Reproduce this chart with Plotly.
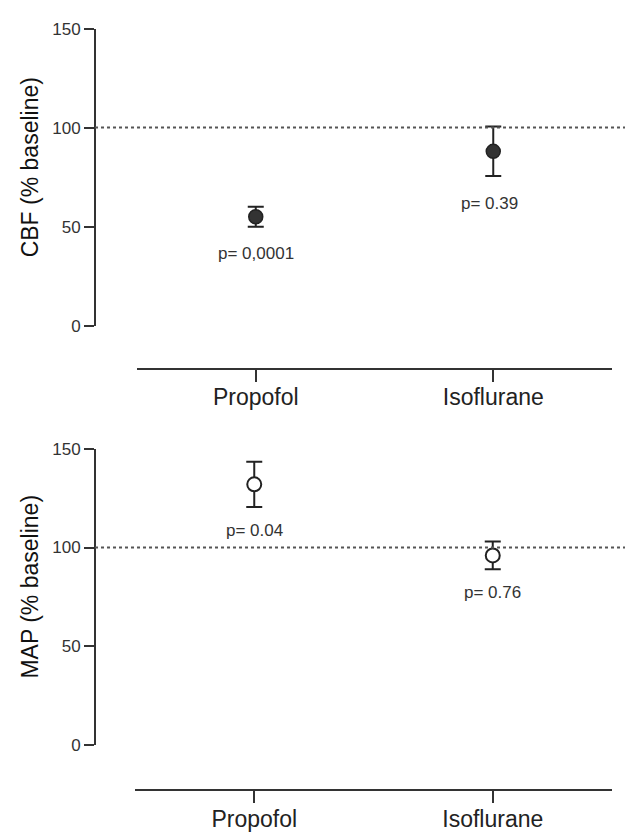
import plotly.graph_objects as go

# Group means (% of baseline) with their error half-widths
agents = ["Propofol", "Isoflurane"]
agent_pos = [1, 2]
cbf_mean = [55, 88]
cbf_err = [5, 12.5]
map_mean = [132, 96]
map_err = [11.5, 7]
cbf_p = ["p= 0,0001", "p= 0.39"]
map_p = ["p= 0.04", "p= 0.76"]
y_ticks = [0, 50, 100, 150]
baseline = 100

W, H = 625, 839


def px(x):
    return x / W


def py(y):
    return 1 - y / H


INK = "#222222"
FONT = "Arial, Liberation Sans, sans-serif"
fig = go.Figure()

# CBF: filled markers
fig.add_trace(go.Scatter(
    x=agent_pos, y=cbf_mean, mode="markers", xaxis="x", yaxis="y",
    marker=dict(size=14, color="#333333", line=dict(color=INK, width=1.5)),
    error_y=dict(type="data", array=cbf_err, visible=True, color=INK,
                 thickness=2, width=8),
    showlegend=False,
))

# MAP: open markers
fig.add_trace(go.Scatter(
    x=agent_pos, y=map_mean, mode="markers", xaxis="x2", yaxis="y2",
    marker=dict(size=14, color="white", line=dict(color=INK, width=2)),
    error_y=dict(type="data", array=map_err, visible=True, color=INK,
                 thickness=2, width=8),
    showlegend=False,
))

yax = dict(
    range=[0, 150], tickvals=y_ticks, showline=True, linecolor="#333333",
    linewidth=2, ticks="outside", ticklen=10, tickwidth=1.5, tickcolor="#333333",
    showgrid=False, zeroline=False, anchor="free", position=px(95),
    tickfont=dict(family=FONT, size=17, color="#333333"),
    fixedrange=True,
)
xax = dict(
    range=[0.5, 2.5], tickvals=agent_pos, ticktext=agents, showline=True,
    linecolor="#333333", linewidth=2, ticks="outside", ticklen=12, tickwidth=2,
    tickcolor="#333333", showgrid=False, zeroline=False, anchor="free",
    ticklabelstandoff=-4,
    tickfont=dict(family=FONT, size=23, color=INK),
    fixedrange=True,
)

fig.update_layout(
    width=W, height=H,
    margin=dict(l=0, r=0, t=0, b=0),
    paper_bgcolor="white", plot_bgcolor="white",
    xaxis=dict(xax, domain=[px(137), px(612)], position=py(368)),
    yaxis=dict(yax, domain=[py(324), py(20)]),
    xaxis2=dict(xax, domain=[px(135), px(612)], position=py(799)),
    yaxis2=dict(yax, domain=[py(753), py(450)]),
)

# Dotted baseline reference at 100 %
for yref in ["y", "y2"]:
    fig.add_shape(type="line", xref="paper", yref=yref, x0=px(95), x1=1,
                  y0=baseline, y1=baseline,
                  line=dict(color="#555555", width=2, dash="dot"))

font_p = dict(family=FONT, size=17, color="#333333")

# p-value labels beneath each error bar
for i in range(2):
    fig.add_annotation(x=agent_pos[i], y=cbf_mean[i] - cbf_err[i], xref="x", yref="y",
                       text=cbf_p[i], showarrow=False, font=font_p,
                       yshift=-27, xshift=-4 if i == 1 else 0)
    fig.add_annotation(x=agent_pos[i], y=map_mean[i] - map_err[i], xref="x2", yref="y2",
                       text=map_p[i], showarrow=False, font=font_p, yshift=-23)

# Axis titles
font_t = dict(family=FONT, size=23, color="#111111")
for label, yc in [("CBF (% baseline)", 162), ("MAP (% baseline)", 591)]:
    fig.add_annotation(x=px(30), y=py(yc), xref="paper", yref="paper",
                       xanchor="center", yanchor="middle",
                       text=label, textangle=-90, showarrow=False, font=font_t)

fig.write_html("out.html")
